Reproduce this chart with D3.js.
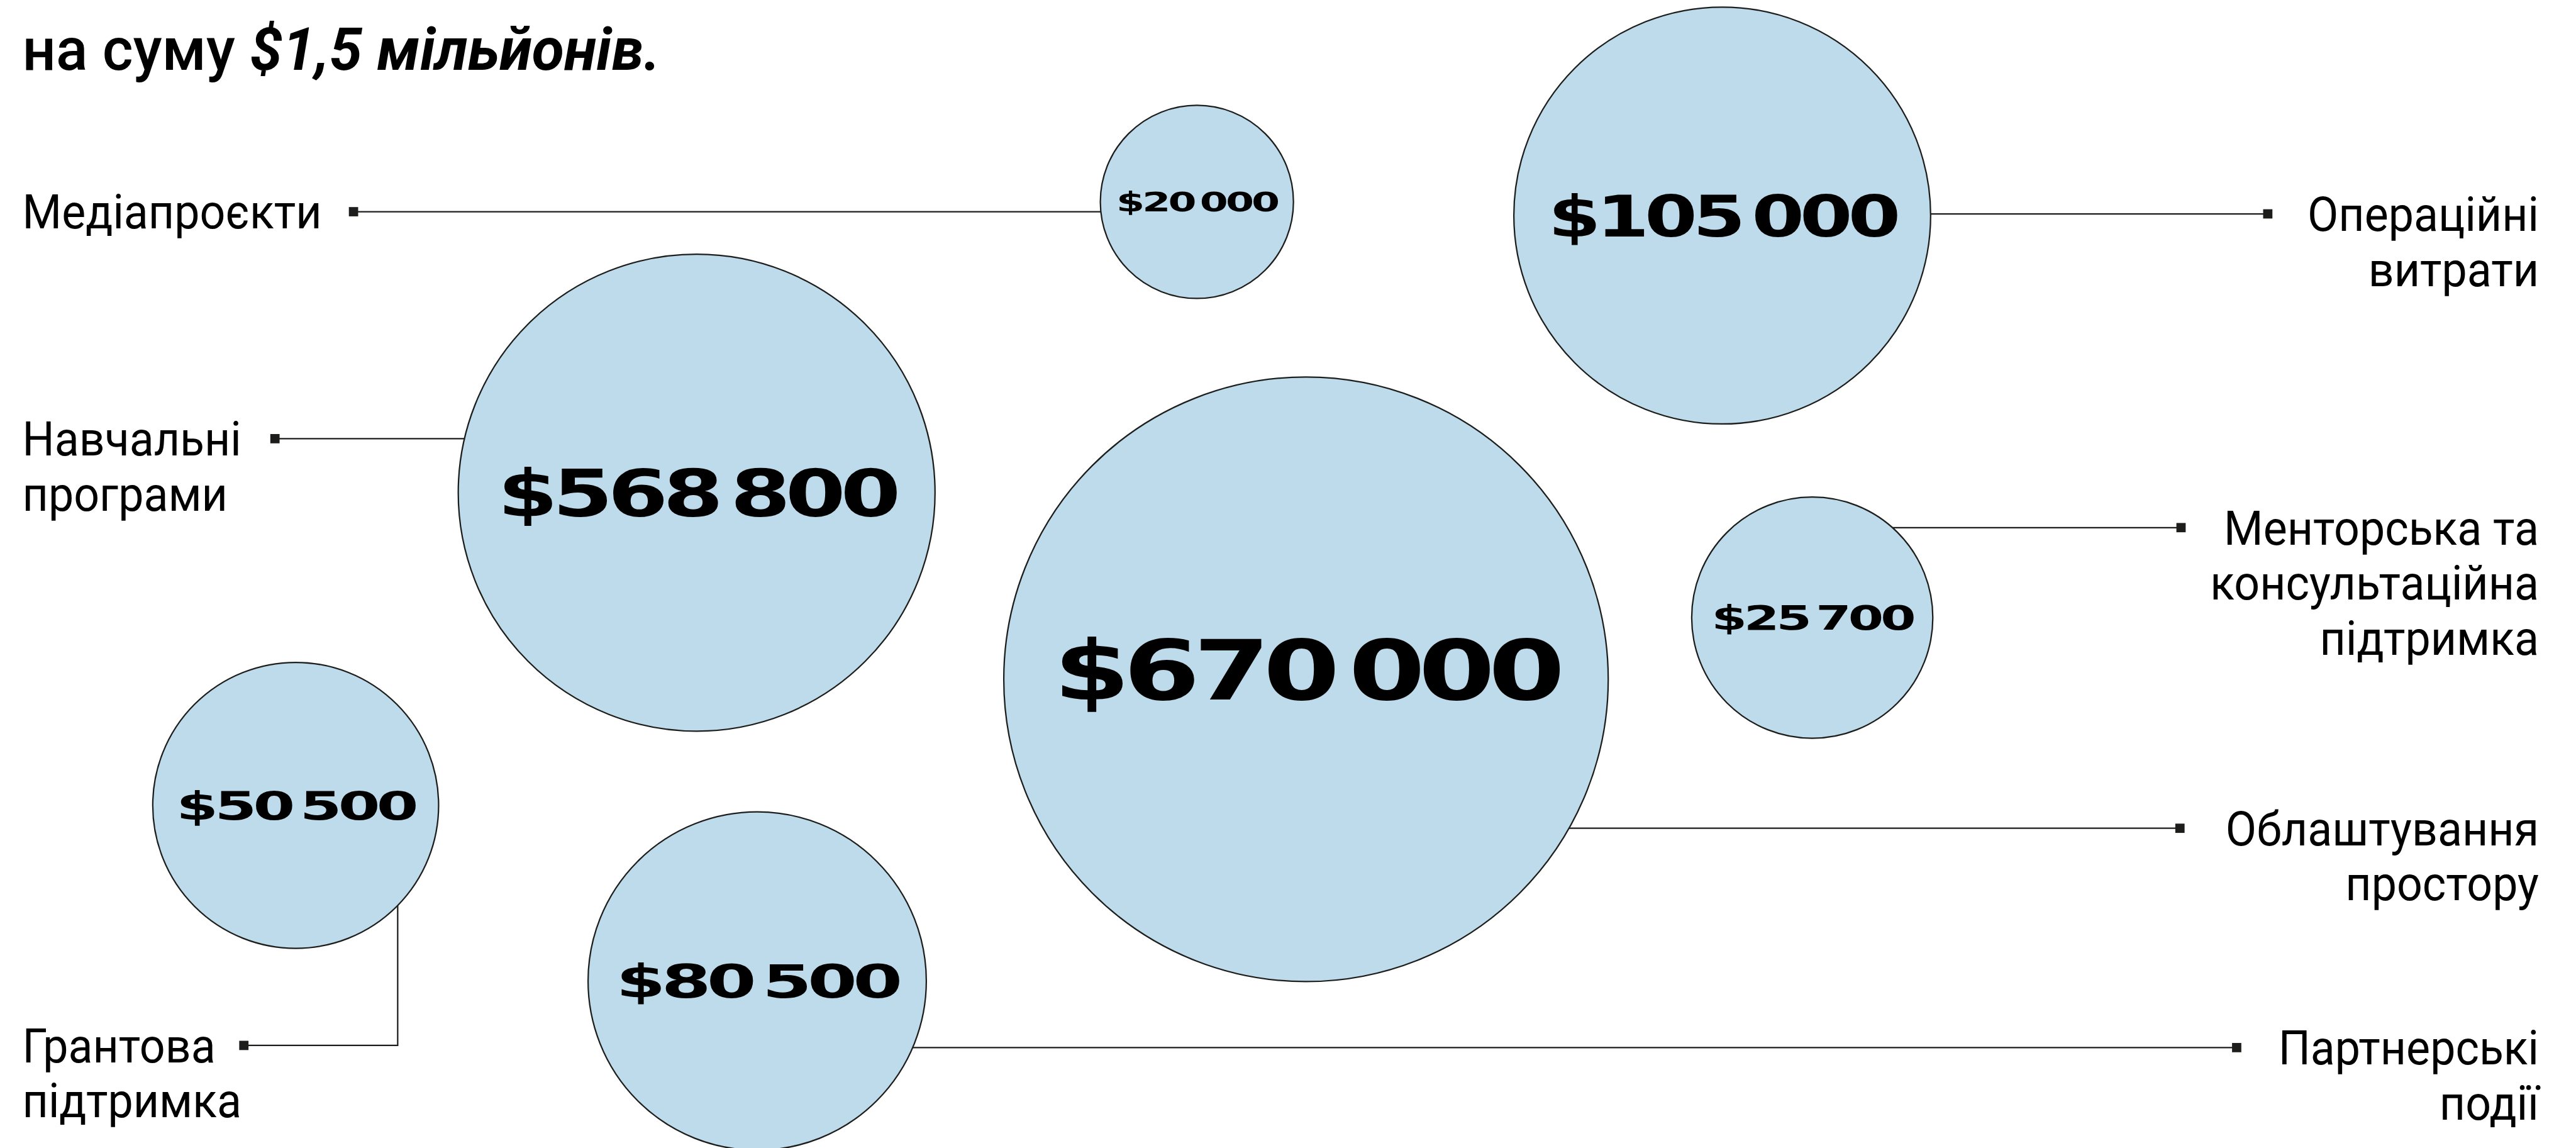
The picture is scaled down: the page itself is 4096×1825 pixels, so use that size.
<!DOCTYPE html>
<html>
<head>
<meta charset="utf-8">
<script src="https://cdn.jsdelivr.net/npm/d3@7"></script>
<style>
  html, body { margin: 0; padding: 0; background: #fff; overflow: hidden; }
</style>
</head>
<body>
<div id="chart"></div>
<script>
// data
var categories = [
    ["Медіапроєкти"],
    ["Операційні", "витрати"],
    ["Навчальні", "програми"],
    ["Облаштування", "простору"],
    ["Менторська та", "консультаційна", "підтримка"],
    ["Грантова", "підтримка"],
    ["Партнерські", "події"]
];
var amounts = [20000, 105000, 568800, 670000, 25700, 50500, 80500];
var titleParts = ["на суму ", "$1,5 мільйонів."];

// layout, in reference units (4722 x 2104)
var bubbleX = [2194, 3157, 1277, 2394, 3322, 542, 1388];
var bubbleY = [370, 395, 903, 1245, 1132, 1476, 1798];
var radiusStops = [177, 221, 262, 310, 382, 437, 554];   // hand-sized bubbles, by ascending amount
var labelSide = ["left", "right", "left", "right", "right", "left", "right"];
var leaderY = [388, 392, 804, 1518, 967, 1916, 1920];
var markerX = [648, 4157, 504, 3996, 3998, 447, 4100];
var elbowX = [null, null, null, null, null, 729, null];

function init() {

    var W = 4096, H = 1825;
    var refW = 4722, refH = 2104;
    var k = W / refW;

    var x = d3.scaleLinear().domain([0, refW]).range([0, W]);
    var y = d3.scaleLinear().domain([0, refH]).range([0, H]);
    var r = d3.scaleLinear()
              .domain(amounts.slice().sort(d3.ascending))
              .range(radiusStops);

    var fmt = d3.formatLocale({
        decimal: ",", thousands: "\u2009", grouping: [3], currency: ["$", ""]
    }).format("$,");

    var ink = "#1d1d1b";
    var labelFont = "Roboto, 'Liberation Sans', sans-serif";

    var svg = d3.select("#chart")
                .append("svg")
                .attr("width", W)
                .attr("height", H);

    var rows = amounts.map(function(v, i) {
        return { value: v, lines: categories[i], i: i };
    });

    // title
    var title = svg.append("text")
        .attr("x", x(41))
        .attr("y", y(128))
        .attr("font-family", labelFont)
        .attr("font-size", 108 * k)
        .attr("fill", "#000");
    title.append("tspan").attr("font-weight", 500).text(titleParts[0]);
    title.append("tspan").attr("font-weight", 700).attr("font-style", "italic").text(titleParts[1]);

    // leader lines (drawn under the bubbles)
    svg.selectAll("path.leader")
        .data(rows)
        .enter()
        .append("path")
        .attr("class", "leader")
        .attr("fill", "none")
        .attr("stroke", ink)
        .attr("stroke-width", 2.6 * k)
        .attr("d", function(d) {
            var i = d.i;
            if (elbowX[i] != null) {
                return "M" + x(elbowX[i]) + "," + y(bubbleY[i]) +
                       "V" + y(leaderY[i]) + "H" + x(markerX[i]);
            }
            return "M" + x(bubbleX[i]) + "," + y(leaderY[i]) + "H" + x(markerX[i]);
        });

    var ms = 17;
    svg.selectAll("rect.marker")
        .data(rows)
        .enter()
        .append("rect")
        .attr("class", "marker")
        .attr("x", function(d) { return x(markerX[d.i] - ms / 2); })
        .attr("y", function(d) { return y(leaderY[d.i] - ms / 2); })
        .attr("width", ms * k)
        .attr("height", ms * k)
        .attr("fill", ink);

    // bubbles
    svg.selectAll("circle")
        .data(rows)
        .enter()
        .append("circle")
        .attr("cx", function(d) { return x(bubbleX[d.i]); })
        .attr("cy", function(d) { return y(bubbleY[d.i]); })
        .attr("r", function(d) { return r(d.value) * k; })
        .attr("fill", "#bddbea")
        .attr("stroke", ink)
        .attr("stroke-width", 2.6 * k);

    // amounts inside bubbles
    svg.selectAll("text.amount")
        .data(rows)
        .enter()
        .append("text")
        .attr("class", "amount")
        .attr("x", function(d) { return x(bubbleX[d.i]); })
        .attr("y", function(d) { return y(bubbleY[d.i] + 0.1 * r(d.value) - (d.value > 600000 ? 18 : 0)); })
        .attr("text-anchor", "middle")
        .attr("font-family", "'DejaVu Sans', sans-serif")
        .attr("font-weight", 700)
        .attr("letter-spacing", "-0.06em")
        .attr("font-size", function(d) { return 0.2 * r(d.value) / 0.729 * k; })
        .attr("textLength", function(d) { return 0.835 * 2 * r(d.value) * k; })
        .attr("lengthAdjust", "spacingAndGlyphs")
        .attr("fill", "#000")
        .text(function(d) { return fmt(d.value); });

    // category labels, slightly condensed like the original grotesque
    var labels = svg.selectAll("g.label")
        .data(rows)
        .enter()
        .append("g")
        .attr("class", "label")
        .attr("transform", function(d) {
            var ax = labelSide[d.i] == "left" ? x(41) : x(4654);
            return "translate(" + ax + ",0) scale(0.95,1)";
        })
        .append("text")
        .attr("font-family", labelFont)
        .attr("font-size", 87 * k)
        .attr("fill", "#000")
        .attr("text-anchor", function(d) { return labelSide[d.i] == "left" ? "start" : "end"; });

    labels.selectAll("tspan")
        .data(function(d) {
            return d.lines.map(function(s, j) { return { s: s, j: j, i: d.i }; });
        })
        .enter()
        .append("tspan")
        .attr("x", 0)
        .attr("y", function(d) { return y(leaderY[d.i] + 31 + d.j * 101); })
        .text(function(d) { return d.s; });
}

window.onload = init;
</script>
</body>
</html>
